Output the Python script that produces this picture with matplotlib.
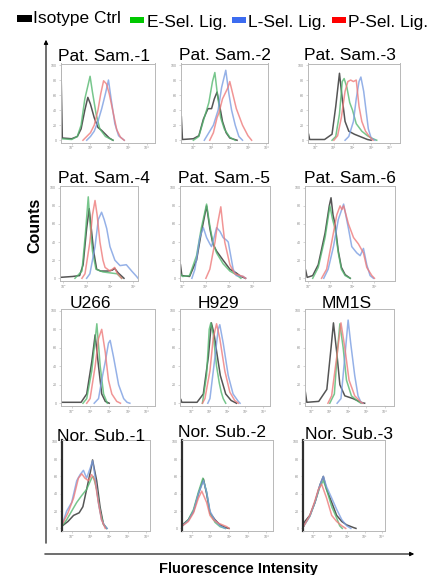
import matplotlib
matplotlib.use("Agg")
import matplotlib.pyplot as plt
from matplotlib.patches import Rectangle, FancyArrowPatch

W, H = 428, 575

# line colours (the scanned histograms are soft / washed out)
COLOR_ISO = "#2b2b2b"
COLOR_E = "#55b870"
COLOR_L = "#7b9ee2"
COLOR_P = "#ee7b7b"
FRAME = "#b8b8b8"
TICK_TXT = "#8a8a8a"

plt.rcParams.update({
    "font.family": ["Liberation Sans", "DejaVu Sans"],
    "font.size": 10,
})

LEGEND_LABELS = ["Isotype Ctrl", "E-Sel. Lig.", "L-Sel. Lig.", "P-Sel. Lig."]
LEGEND_COLORS = ["#000000", "#00c800", "#3c6cf0", "#ff0000"]

TITLES = ["Pat. Sam.-1", "Pat. Sam.-2", "Pat. Sam.-3",
          "Pat. Sam.-4", "Pat. Sam.-5", "Pat. Sam.-6",
          "U266", "H929", "MM1S",
          "Nor. Sub.-1", "Nor. Sub.-2", "Nor. Sub.-3"]

# histogram knots: (log10 fluorescence, % of max)
# --- Pat. Sam.-1
P1_ISO = [(-0.57, 95), (-0.5, 3), (0.0, 2), (0.3, 5), (0.5, 15), (0.7, 40), (0.86, 57), (1.0, 48),
          (1.2, 30), (1.4, 17), (1.6, 13), (1.8, 8), (2.0, 3), (2.2, 0)]
P1_E = [(-0.57, 2), (0.0, 1), (0.3, 5), (0.5, 20), (0.7, 55), (0.98, 85), (1.1, 65), (1.3, 35),
        (1.5, 15), (1.8, 5), (2.2, 0)]
P1_L = [(0.8, 0), (1.0, 5), (1.2, 12), (1.4, 25), (1.6, 42), (1.8, 62), (1.96, 80), (2.1, 55),
        (2.3, 22), (2.5, 6), (2.8, 0)]
P1_P = [(0.6, 0), (0.8, 5), (1.0, 10), (1.2, 20), (1.4, 40), (1.55, 62), (1.7, 79), (1.85, 75),
        (2.0, 62), (2.2, 38), (2.4, 14), (2.6, 4), (2.8, 0)]
# --- Pat. Sam.-2
P2_ISO = [(-0.66, 31), (-0.6, 1), (0.0, 2), (0.3, 6), (0.55, 28), (0.8, 42), (1.0, 42), (1.15, 55),
          (1.3, 64), (1.45, 45), (1.6, 25), (1.8, 10), (2.0, 3), (2.4, 0)]
P2_E = [(0.0, 0), (0.3, 5), (0.6, 30), (0.85, 50), (1.05, 78), (1.18, 90), (1.3, 65), (1.5, 30),
        (1.7, 15), (2.0, 4), (2.3, 0)]
P2_L = [(0.6, 0), (0.8, 8), (1.1, 20), (1.36, 40), (1.55, 70), (1.78, 93), (1.95, 62), (2.1, 40),
        (2.3, 20), (2.5, 5), (2.7, 0)]
P2_P = [(0.9, 0), (1.1, 10), (1.3, 30), (1.4, 36), (1.6, 55), (1.8, 65), (1.9, 70), (2.0, 78),
        (2.1, 68), (2.36, 42), (2.7, 20), (3.0, 6), (3.2, 0)]
# --- Pat. Sam.-3
P3_ISO = [(-0.36, 8), (-0.3, 1), (0.5, 1), (0.9, 8), (1.1, 45), (1.3, 89), (1.45, 55), (1.6, 25),
          (1.8, 12), (2.1, 8), (2.4, 5), (2.8, 1), (3.0, 0)]
P3_E = [(0.9, 0), (1.1, 5), (1.3, 35), (1.45, 78), (1.55, 82), (1.7, 70), (1.85, 50), (2.0, 40),
        (2.2, 22), (2.5, 12), (2.8, 6), (3.1, 2), (3.3, 0)]
P3_L = [(1.6, 0), (1.8, 5), (2.05, 25), (2.2, 55), (2.35, 78), (2.45, 84), (2.6, 65), (2.7, 45),
        (2.85, 15), (3.0, 3), (3.2, 0)]
P3_P = [(1.0, 0), (1.2, 6), (1.4, 30), (1.6, 65), (1.75, 78), (1.9, 80), (2.05, 78), (2.2, 80),
        (2.35, 45), (2.5, 25), (2.7, 12), (2.9, 5), (3.1, 0)]
# --- Pat. Sam.-4
P4_ISO = [(-0.14, 1), (0.4, 2), (0.7, 3), (0.85, 15), (1.0, 55), (1.11, 77), (1.2, 55), (1.3, 30),
          (1.43, 10), (1.6, 8), (1.9, 8), (2.1, 9), (2.2, 11), (2.35, 6), (2.6, 0)]
P4_E = [(0.5, 0), (0.8, 8), (0.95, 50), (1.07, 90), (1.15, 60), (1.25, 30), (1.4, 10), (1.7, 7),
        (2.0, 6), (2.3, 5), (2.5, 0)]
P4_L = [(1.0, 0), (1.14, 5), (1.36, 35), (1.5, 65), (1.64, 73), (1.75, 65), (1.86, 55), (2.0, 35),
        (2.21, 20), (2.43, 14), (2.7, 15), (2.93, 8), (3.14, 2), (3.2, 0)]
P4_P = [(0.8, 0), (0.93, 5), (1.14, 40), (1.25, 70), (1.36, 86), (1.45, 70), (1.57, 40), (1.7, 20),
        (1.79, 12), (2.0, 8), (2.2, 12), (2.3, 6), (2.5, 0)]
# --- Pat. Sam.-5
P5_ISO = [(-0.09, 15), (-0.03, 3), (0.3, 2), (0.6, 20), (0.8, 50), (1.03, 80), (1.17, 55), (1.3, 38),
          (1.46, 30), (1.74, 20), (2.03, 10), (2.3, 6), (2.5, 2), (2.7, 0)]
P5_E = [(-0.09, 5), (0.0, 2), (0.3, 3), (0.6, 25), (0.8, 55), (1.03, 82), (1.17, 58), (1.3, 40),
        (1.46, 28), (1.74, 16), (2.03, 8), (2.3, 4), (2.5, 0)]
P5_L = [(0.4, 0), (0.53, 10), (0.74, 45), (0.89, 56), (1.03, 45), (1.17, 38), (1.24, 35), (1.3, 40),
        (1.46, 56), (1.6, 52), (1.74, 45), (1.89, 42), (1.96, 40), (2.03, 30), (2.17, 10), (2.3, 3),
        (2.6, 2), (2.7, 0)]
P5_P = [(1.0, 0), (1.17, 10), (1.39, 40), (1.5, 60), (1.64, 79), (1.72, 60), (1.81, 40), (2.03, 15),
        (2.24, 5), (2.6, 2), (2.7, 0)]
# --- Pat. Sam.-6
P6_ISO = [(-0.12, 9), (-0.05, 1), (0.2, 3), (0.45, 15), (0.76, 50), (0.95, 80), (1.03, 89), (1.12, 70),
          (1.21, 60), (1.36, 30), (1.5, 12), (1.67, 4), (1.9, 0)]
P6_E = [(0.2, 0), (0.45, 12), (0.76, 45), (0.98, 80), (1.1, 65), (1.21, 55), (1.36, 28), (1.5, 10),
        (1.67, 3), (1.9, 0)]
P6_L = [(0.7, 0), (0.9, 10), (1.14, 35), (1.36, 65), (1.6, 82), (1.82, 55), (1.97, 35), (2.2, 28),
        (2.35, 25), (2.5, 33), (2.65, 15), (2.8, 3), (2.95, 0)]
P6_P = [(0.6, 0), (0.83, 10), (1.06, 40), (1.29, 70), (1.44, 80), (1.52, 76), (1.6, 80), (1.82, 60),
        (2.05, 45), (2.27, 38), (2.5, 28), (2.65, 12), (2.88, 3), (3.0, 0)]
# --- U266
P7_ISO = [(-0.57, 1), (0.5, 1), (0.8, 10), (1.07, 45), (1.25, 74), (1.43, 40), (1.6, 10), (1.79, 2),
          (2.0, 0)]
P7_E = [(0.6, 0), (0.8, 5), (1.07, 35), (1.34, 86), (1.52, 40), (1.7, 10), (1.9, 0)]
P7_L = [(1.2, 0), (1.43, 5), (1.6, 25), (1.79, 45), (1.96, 65), (2.05, 68), (2.23, 50), (2.5, 20),
        (2.77, 5), (2.95, 1), (3.1, 0)]
P7_P = [(0.8, 0), (0.98, 5), (1.25, 40), (1.43, 70), (1.6, 80), (1.79, 55), (1.96, 25), (2.14, 10),
        (2.4, 2), (2.6, 0)]
# --- H929
P8_ISO = [(-0.6, 4), (-0.55, 1), (0.3, 1), (0.65, 10), (0.93, 50), (1.1, 87), (1.25, 75), (1.4, 55),
          (1.6, 30), (1.9, 10), (2.2, 3), (2.5, 0)]
P8_E = [(0.6, 0), (0.83, 30), (0.98, 80), (1.07, 87), (1.2, 75), (1.39, 40), (1.54, 22), (1.65, 12),
        (1.76, 5), (1.9, 0)]
P8_L = [(0.9, 0), (1.02, 5), (1.3, 50), (1.48, 80), (1.57, 85), (1.76, 65), (2.04, 30), (2.31, 10),
        (2.6, 2), (2.7, 0)]
P8_P = [(0.6, 0), (0.74, 5), (1.02, 35), (1.2, 70), (1.39, 86), (1.57, 70), (1.85, 35), (2.13, 12),
        (2.4, 3), (2.6, 0)]
# --- MM1S
P9_ISO = [(-0.33, 12), (-0.25, 1), (0.4, 2), (0.84, 15), (1.07, 60), (1.2, 87), (1.38, 55), (1.55, 20),
          (1.82, 8), (2.27, 5), (2.7, 1), (2.9, 0)]
P9_E = [(1.0, 0), (1.25, 10), (1.43, 60), (1.55, 86), (1.73, 60), (1.91, 25), (2.18, 8), (2.54, 2),
        (2.7, 0)]
P9_L = [(1.4, 0), (1.61, 5), (1.82, 50), (2.0, 90), (2.14, 65), (2.36, 30), (2.54, 8), (2.7, 1),
        (2.8, 0)]
P9_P = [(0.9, 0), (1.1, 8), (1.38, 50), (1.61, 87), (1.82, 60), (2.05, 25), (2.36, 8), (2.7, 1),
        (2.8, 0)]
# --- Nor. Sub.-1
P10_ISO = [(-0.5, 3), (-0.2, 8), (0.1, 15), (0.4, 18), (0.6, 25), (0.8, 45), (1.0, 65), (1.12, 79),
           (1.2, 70), (1.34, 55), (1.52, 25), (1.7, 5), (1.88, 0)]
P10_E = [(-0.5, 3), (-0.27, 10), (0.0, 20), (0.27, 30), (0.54, 38), (0.8, 45), (1.07, 58), (1.16, 60),
         (1.34, 45), (1.52, 20), (1.7, 5), (1.88, 0)]
P10_L = [(-0.5, 5), (-0.27, 20), (0.0, 30), (0.27, 55), (0.45, 62), (0.63, 67), (0.8, 58), (1.0, 70),
         (1.12, 78), (1.25, 60), (1.43, 30), (1.6, 10), (1.8, 2), (1.9, 0)]
P10_P = [(-0.5, 5), (-0.2, 18), (0.1, 35), (0.36, 58), (0.54, 63), (0.71, 58), (0.9, 55), (1.07, 62),
         (1.25, 55), (1.43, 30), (1.6, 10), (1.8, 0)]
# --- Nor. Sub.-2
P11_ISO = [(-0.5, 3), (-0.45, 5), (-0.18, 10), (0.1, 20), (0.36, 40), (0.63, 57), (0.8, 40), (0.98, 18),
           (1.25, 10), (1.52, 4), (1.8, 1), (2.0, 0)]
P11_E = [(-0.5, 3), (-0.18, 10), (0.1, 22), (0.36, 42), (0.6, 58), (0.8, 42), (0.98, 18), (1.25, 7),
         (1.52, 2), (1.8, 0)]
P11_L = [(-0.5, 3), (-0.18, 9), (0.1, 20), (0.36, 40), (0.63, 55), (0.8, 42), (0.98, 20), (1.25, 9),
         (1.52, 3), (1.8, 0)]
P11_P = [(-0.5, 3), (-0.18, 8), (0.1, 18), (0.36, 35), (0.54, 43), (0.8, 30), (0.98, 15), (1.16, 10),
         (1.43, 6), (1.88, 2), (2.0, 0)]
# --- Nor. Sub.-3
P12_ISO = [(-0.55, 3), (-0.49, 8), (-0.2, 15), (0.1, 30), (0.39, 50), (0.59, 60), (0.78, 45), (1.08, 30),
           (1.37, 15), (1.67, 8), (1.96, 4), (2.35, 1), (2.5, 0)]
P12_E = [(-0.55, 3), (-0.2, 14), (0.1, 30), (0.39, 48), (0.59, 55), (0.78, 45), (1.08, 25), (1.37, 12),
         (1.55, 3), (1.7, 0)]
P12_L = [(-0.55, 3), (-0.2, 14), (0.1, 30), (0.39, 50), (0.59, 60), (0.78, 48), (1.08, 35), (1.37, 22),
         (1.67, 10), (1.96, 3), (2.2, 0)]
P12_P = [(-0.55, 3), (-0.2, 15), (0.1, 32), (0.3, 45), (0.49, 51), (0.78, 35), (1.08, 15), (1.37, 8),
         (1.67, 3), (1.9, 0)]

CURVES = [
    (P1_ISO, P1_E, P1_L, P1_P), (P2_ISO, P2_E, P2_L, P2_P), (P3_ISO, P3_E, P3_L, P3_P),
    (P4_ISO, P4_E, P4_L, P4_P), (P5_ISO, P5_E, P5_L, P5_P), (P6_ISO, P6_E, P6_L, P6_P),
    (P7_ISO, P7_E, P7_L, P7_P), (P8_ISO, P8_E, P8_L, P8_P), (P9_ISO, P9_E, P9_L, P9_P),
    (P10_ISO, P10_E, P10_L, P10_P), (P11_ISO, P11_E, P11_L, P11_P), (P12_ISO, P12_E, P12_L, P12_P),
]
DECADES = [4, 4, 4, 3, 3, 3, 4, 4, 4, 4, 4, 4]

# ---- layout (pixels, origin top-left) ----
ROW_TB = [(63.5, 142.5), (186, 281), (309, 406), (440, 531)]
PANEL_LR = [(61, 155), (181, 268), (308, 400),
            (60, 138), (180, 270), (305, 395),
            (61, 155), (180, 270), (305, 394),
            (62, 150), (182, 273), (303, 385)]
PANEL_XLIM = [(-0.57, 4.44), (-0.68, 4.1), (-0.39, 4.55),
              (-0.14, 3.2), (-0.11, 3.75), (-0.15, 3.93),
              (-0.57, 4.44), (-0.65, 4.37), (-0.35, 4.5),
              (-0.52, 4.2), (-0.52, 4.36), (-0.6, 4.2)]
TITLE_XY = [(104, 61), (225, 60), (350, 60),
            (104, 183), (224, 183), (350, 183),
            (90, 308), (218, 308), (347, 308),
            (101, 441), (222, 437), (349, 439)]

SUPERSCRIPT = "⁰¹²³⁴"
LINE_COLORS = [COLOR_ISO, COLOR_E, COLOR_L, COLOR_P]


def px(x, y):
    return x / W, 1 - y / H


def draw_panel(fig, k):
    l, r = PANEL_LR[k]
    t, b = ROW_TB[k // 3]
    ax = fig.add_axes([l / W, 1 - b / H, (r - l) / W, (b - t) / H])
    for curve, color in zip(CURVES[k], LINE_COLORS):
        xs, ys = zip(*curve)
        ax.plot(xs, ys, color=color, lw=1.1, alpha=0.8, solid_joinstyle="round")
    ax.set_xlim(*PANEL_XLIM[k])
    ax.set_ylim(-3, 102)
    for sp in ax.spines.values():
        sp.set_color(FRAME)
        sp.set_linewidth(0.7)
    if k >= 9:
        ax.spines["left"].set_color("#303030")
        ax.spines["left"].set_linewidth(1.6)
    nd = DECADES[k]
    ax.set_xticks(range(nd + 1))
    ax.set_xticklabels(["10" + SUPERSCRIPT[i] for i in range(nd + 1)])
    ax.set_yticks([0, 20, 40, 60, 80, 100])
    ax.tick_params(length=1.2, width=0.4, color=FRAME, labelsize=2.6,
                   labelcolor=TICK_TXT, pad=1.5)
    tx, ty = TITLE_XY[k]
    fig.text(*px(tx, ty), TITLES[k], ha="center", va="baseline", fontsize=12.5)


def main():
    fig = plt.figure(figsize=(W / 100, H / 100), dpi=100)
    fig.patch.set_facecolor("white")

    for k in range(12):
        draw_panel(fig, k)

    # legend strip across the top
    rects = [(17, 15, 15, 6.5), (130, 17, 14, 6), (232, 17, 14, 6), (332, 17, 14, 6)]
    text_pos = [(33, 22.5), (147, 26.5), (248, 26.5), (348, 26.5)]
    for (rx, ry, rw, rh), (tx, ty), lbl, c in zip(rects, text_pos, LEGEND_LABELS, LEGEND_COLORS):
        fig.add_artist(Rectangle(px(rx, ry + rh), rw / W, rh / H, facecolor=c,
                                 edgecolor="none", transform=fig.transFigure))
        fig.text(*px(tx, ty), lbl, ha="left", va="baseline", fontsize=12.5)

    # outer axes arrows
    fig.add_artist(FancyArrowPatch(px(46, 546), px(46, 37), transform=fig.transFigure,
                                   arrowstyle="-|>", mutation_scale=6, lw=0.8, color="black"))
    fig.add_artist(FancyArrowPatch(px(42, 554), px(417, 554), transform=fig.transFigure,
                                   arrowstyle="-|>", mutation_scale=6, lw=0.8, color="black"))

    fig.text(*px(35, 225), "Counts", rotation=90, ha="center", va="center",
             fontsize=11.5, fontweight="bold")
    fig.text(*px(238, 573), "Fluorescence Intensity", ha="center", va="baseline",
             fontsize=10.5, fontweight="bold")

    fig.savefig("out.png", dpi=100, facecolor="white")
    plt.close(fig)


if __name__ == "__main__":
    main()
